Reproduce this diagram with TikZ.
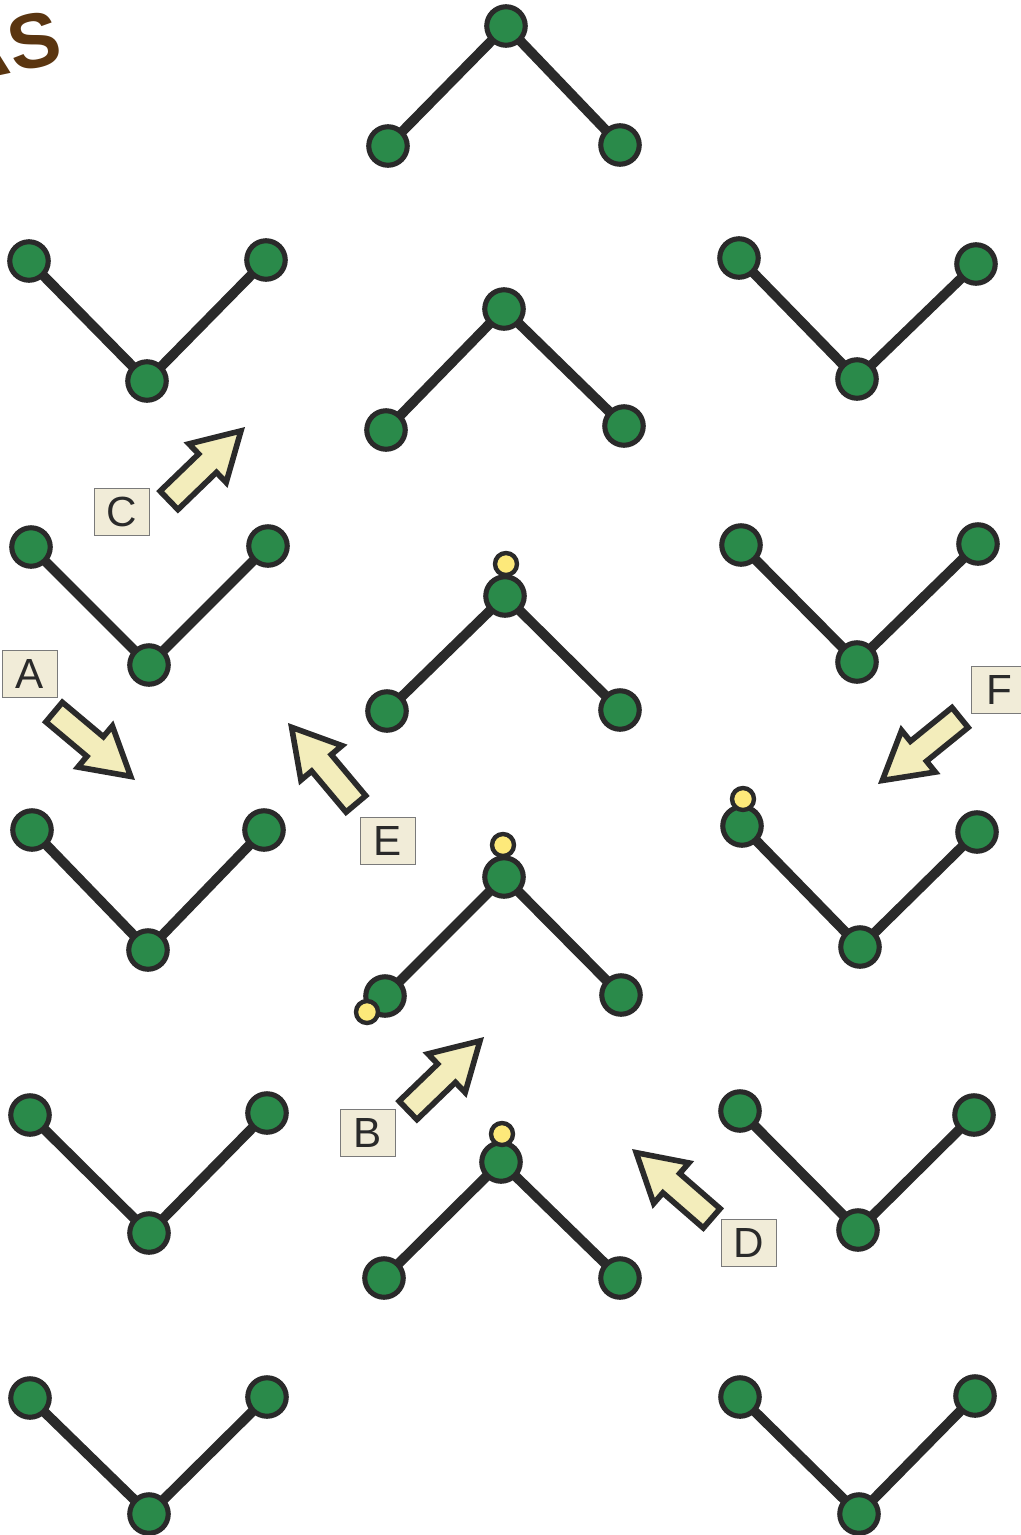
\documentclass[tikz,border=0pt]{standalone}
\usepackage{fontspec}
\setmainfont{Liberation Sans}
\usetikzlibrary{shapes.arrows, backgrounds}

\definecolor{leaf}{HTML}{2A8A4A}
\definecolor{ink}{HTML}{2A2A2A}
\definecolor{pollen}{HTML}{FDE97A}
\definecolor{cream}{HTML}{F3EDBB}
\definecolor{paper}{HTML}{F1ECD8}
\definecolor{rim}{HTML}{7A7A7A}
\definecolor{bark}{HTML}{5A3510}

\begin{document}
\begin{tikzpicture}[
  x=0.02cm, y=-0.02cm,
  site/.style={circle, draw=ink, fill=leaf, line width=2.9pt,
               minimum size=0.77cm, inner sep=0pt},
  spot/.style={circle, draw=ink, fill=pollen, line width=2.5pt,
               minimum size=0.44cm, inner sep=0pt},
  bond/.style={draw=ink, line width=5.6pt},
  push/.style={single arrow, draw=ink, fill=cream, line width=3.2pt,
               inner sep=0pt, inner ysep=0.2cm, minimum height=2cm,
               minimum width=0.96cm, single arrow head extend=0.28cm,
               single arrow tip angle=60, anchor=tip},
  tag/.style={draw=rim, fill=paper, line width=0.8pt, minimum width=1.1cm,
              minimum height=0.94cm, inner sep=0pt, text=ink,
              font=\fontsize{24}{28}\selectfont},
]
\useasboundingbox (0,0) rectangle (1021,1535);

% cut-off lettering, top left
\node[text=bark, rotate=12, anchor=east, inner sep=0pt,
      font=\fontsize{44}{48}\selectfont\bfseries] (brand) at (60,36)
      {A\hspace{1pt}S};

% middle column: peaks
\foreach \i/\ax/\ay/\lx/\ly/\rx/\ry in {1/506/26/388/146/620/145,
    2/504/309/386/430/624/426, 3/505/596/387/711/620/710,
    4/504/877/385/996/621/995, 5/501/1162/384/1278/620/1278}{
  \node[site] (mid\i-top) at (\ax,\ay) {};
  \node[site] (mid\i-l) at (\lx,\ly) {};
  \node[site] (mid\i-r) at (\rx,\ry) {};
  \begin{scope}[on background layer]
    \draw[bond] (mid\i-l.center) -- (mid\i-top.center) -- (mid\i-r.center);
  \end{scope}
}

% left column: valleys
\foreach \i/\lx/\ly/\bx/\by/\rx/\ry in {1/29/261/147/381/266/260,
    2/31/547/149/665/268/546, 3/32/830/148/950/264/830,
    4/30/1115/149/1233/267/1113, 5/30/1398/149/1514/267/1397}{
  \node[site] (lft\i-l) at (\lx,\ly) {};
  \node[site] (lft\i-bot) at (\bx,\by) {};
  \node[site] (lft\i-r) at (\rx,\ry) {};
  \begin{scope}[on background layer]
    \draw[bond] (lft\i-l.center) -- (lft\i-bot.center) -- (lft\i-r.center);
  \end{scope}
}

% right column: valleys
\foreach \i/\lx/\ly/\bx/\by/\rx/\ry in {1/739/258/857/379/976/264,
    2/741/545/857/662/978/544, 3/742/826/860/947/977/832,
    4/740/1111/858/1230/974/1115, 5/740/1397/859/1514/975/1396}{
  \node[site] (rgt\i-l) at (\lx,\ly) {};
  \node[site] (rgt\i-bot) at (\bx,\by) {};
  \node[site] (rgt\i-r) at (\rx,\ry) {};
  \begin{scope}[on background layer]
    \draw[bond] (rgt\i-l.center) -- (rgt\i-bot.center) -- (rgt\i-r.center);
  \end{scope}
}

% yellow spots
\node[spot] (spot3) at (506,564) {};
\node[spot] (spot4a) at (503,845) {};
\node[spot] (spot4b) at (367,1012) {};
\node[spot] (spot5) at (502,1134) {};
\node[spot] (spotF) at (743,799) {};

% block arrows
\node[push, rotate=44]  (arrC) at (245,427) {};
\node[push, rotate=-40] (arrA) at (135,780) {};
\node[push, rotate=130] (arrE) at (288,723) {};
\node[push, rotate=219] (arrF) at (878,784) {};
\node[push, rotate=44]  (arrB) at (484,1037) {};
\node[push, rotate=139] (arrD) at (632,1149) {};

% letters
\node[tag] (labC) at (122,512) {C};
\node[tag] (labA) at (30,674) {A};
\node[tag] (labE) at (388,841) {E};
\node[tag] (labF) at (999,690) {F};
\node[tag] (labB) at (368,1133) {B};
\node[tag] (labD) at (749,1243) {D};
\end{tikzpicture}
\end{document}
